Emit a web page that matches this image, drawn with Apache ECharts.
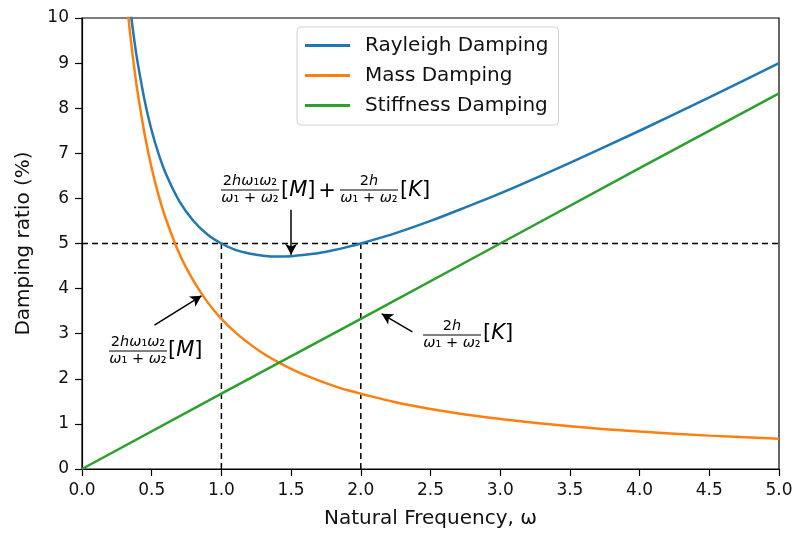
<!DOCTYPE html>
<html>
<head>
<meta charset="utf-8">
<script src="https://cdn.jsdelivr.net/npm/echarts@6/dist/echarts.min.js"></script>
<style>
  html, body { margin: 0; padding: 0; background: #fff; }
  #chart { width: 797px; height: 535px; }
</style>
</head>
<body>
<div id="chart"></div>
<script>
// natural frequency samples (rad/s)
const freq = [0.30, 0.32, 0.34, 0.36, 0.38, 0.40, 0.45, 0.50, 0.55, 0.60, 0.70, 0.80, 0.90, 1.00,
  1.10, 1.20, 1.30, 1.40, 1.50, 1.60, 1.70, 1.80, 1.90, 2.00, 2.25, 2.50, 2.75, 3.00, 3.50, 4.00, 4.50, 5.00]
const rayleigh = [11.61, 10.95, 10.37, 9.86, 9.40, 9.00, 8.16, 7.50, 6.98, 6.56, 5.93, 5.50, 5.20, 5.00,
  4.86, 4.78, 4.73, 4.71, 4.72, 4.75, 4.79, 4.85, 4.92, 5.00, 5.23, 5.50, 5.80, 6.11, 6.79, 7.50, 8.24, 9.00]
const mass = [11.11, 10.42, 9.80, 9.26, 8.77, 8.33, 7.41, 6.67, 6.06, 5.56, 4.76, 4.17, 3.70, 3.33,
  3.03, 2.78, 2.56, 2.38, 2.22, 2.08, 1.96, 1.85, 1.75, 1.67, 1.48, 1.33, 1.21, 1.11, 0.95, 0.83, 0.74, 0.67]
const stiffFreq = [0, 1, 2, 3, 4, 5]
const stiffness = [0, 1.67, 3.33, 5.00, 6.67, 8.33]

// target damping and the two anchor frequencies
const targetRatio = 5
const anchorFreqs = [1, 2]

// annotation arrows [tail, head] in data units
const arrowTails = [[1.5, 5.75], [0.52, 3.19], [2.37, 3.04]]
const arrowHeads = [[1.5, 4.75], [0.857, 3.84], [2.15, 3.44]]

const xTicks = [0, 0.5, 1, 1.5, 2, 2.5, 3, 3.5, 4, 4.5, 5]
const yTicks = [0, 1, 2, 3, 4, 5, 6, 7, 8, 9, 10]

const font = 'DejaVu Sans'
const blue = '#1f77b4'
const orange = '#ff7f0e'
const green = '#2ca02c'

const chart = echarts.init(document.getElementById('chart'))

const pair = (xs, ys) => xs.map((x, i) => [x, ys[i]])

const mathRich = (size) => ({
  r: { fontSize: size, fontFamily: font, fill: '#000' },
  i: { fontSize: size, fontFamily: font, fontStyle: 'italic', fill: '#000' },
})

// a stacked fraction: numerator over a bar over denominator
const frac = (cx, barY, width, num, den) => [
  {
    type: 'text', x: cx, y: barY - 1, silent: true,
    style: { text: num, align: 'center', verticalAlign: 'bottom', rich: mathRich(14.5) },
  },
  {
    type: 'line', silent: true,
    shape: { x1: cx - width / 2, y1: barY, x2: cx + width / 2, y2: barY },
    style: { stroke: '#000', lineWidth: 1 },
  },
  {
    type: 'text', x: cx, y: barY + 1, silent: true,
    style: { text: den, align: 'center', verticalAlign: 'top', rich: mathRich(14.5) },
  },
]

const bracket = (x, y, letter) => ({
  type: 'text', x: x, y: y, silent: true,
  style: { text: '[{i|' + letter + '}]', align: 'left', verticalAlign: 'middle', rich: mathRich(21), font: '21px "DejaVu Sans"' },
})

const numA = '{r|2}{i|hω}{r|₁}{i|ω}{r|₂}'
const numB = '{r|2}{i|h}'
const den = '{i|ω}{r|₁ + }{i|ω}{r|₂}'

const graphics = [
  ...frac(250, 190, 58, numA, den),
  bracket(281, 191, 'M'),
  { type: 'text', x: 327, y: 192, silent: true, style: { text: '+', align: 'center', verticalAlign: 'middle', font: '21px "DejaVu Sans"', fill: '#000' } },
  ...frac(369, 190, 58, numB, den),
  bracket(400, 191, 'K'),
  ...frac(138, 351, 58, numA, den),
  bracket(168, 351, 'M'),
  ...frac(452, 335, 58, numB, den),
  bracket(483, 334, 'K'),
]

const axisCommon = {
  axisLine: { show: true, lineStyle: { color: '#000', width: 1.2 } },
  axisTick: { show: true, inside: false, length: 7, lineStyle: { color: '#000', width: 1.2 } },
  splitLine: { show: false },
  nameLocation: 'middle',
  nameTextStyle: { fontFamily: font, fontSize: 20, color: '#111' },
}

const refLine = (data) => ({
  type: 'line', data: data, symbol: 'none', silent: true,
  lineStyle: { color: '#000', width: 1.5, type: [6, 4] },
  z: 3,
})

chart.setOption({
  animation: false,
  textStyle: { fontFamily: font },
  grid: { left: 82, right: 18, top: 18, bottom: 66, show: true, borderColor: '#000', borderWidth: 1.2 },
  legend: {
    orient: 'vertical',
    left: 297,
    top: 27,
    data: ['Rayleigh Damping', 'Mass Damping', 'Stiffness Damping'],
    icon: 'rect',
    itemWidth: 45,
    itemHeight: 3,
    itemGap: 9,
    padding: [8, 10, 9, 8],
    borderColor: '#d0d0d0',
    borderWidth: 1,
    borderRadius: 4,
    backgroundColor: 'rgba(255,255,255,0.85)',
    textStyle: { fontFamily: font, fontSize: 20, color: '#111', padding: [0, 0, 0, 10], lineHeight: 21 },
  },
  xAxis: {
    ...axisCommon,
    type: 'value',
    min: 0,
    max: 5,
    interval: 0.5,
    name: 'Natural Frequency, ω',
    nameGap: 40,
    axisLabel: { fontFamily: font, fontSize: 17, color: '#111', margin: 13, formatter: (v) => v.toFixed(1) },
  },
  yAxis: {
    ...axisCommon,
    type: 'value',
    min: 0,
    max: 10,
    interval: 1,
    name: 'Damping ratio (%)',
    nameGap: 48,
    axisLabel: { fontFamily: font, fontSize: 17, color: '#111', margin: 13 },
  },
  graphic: graphics,
  series: [
    {
      name: 'Rayleigh Damping', type: 'line', data: pair(freq, rayleigh),
      smooth: 0.3, symbol: 'none', color: blue, lineStyle: { width: 2.5 }, z: 4,
      markLine: {
        silent: true,
        symbol: ['none', 'arrow'],
        symbolSize: [9, 11],
        label: { show: false },
        lineStyle: { color: '#000', width: 1.5, type: 'solid' },
        data: arrowTails.map((t, i) => [{ coord: t }, { coord: arrowHeads[i] }]),
      },
    },
    {
      name: 'Mass Damping', type: 'line', data: pair(freq, mass),
      smooth: 0.3, symbol: 'none', color: orange, lineStyle: { width: 2.5 }, z: 4,
    },
    {
      name: 'Stiffness Damping', type: 'line', data: pair(stiffFreq, stiffness),
      symbol: 'none', color: green, lineStyle: { width: 2.5 }, z: 4,
    },
    refLine([[xTicks[0], targetRatio], [xTicks[xTicks.length - 1], targetRatio]]),
    refLine([[anchorFreqs[0], yTicks[0]], [anchorFreqs[0], targetRatio]]),
    refLine([[anchorFreqs[1], yTicks[0]], [anchorFreqs[1], targetRatio]]),
  ],
})
</script>
</body>
</html>
